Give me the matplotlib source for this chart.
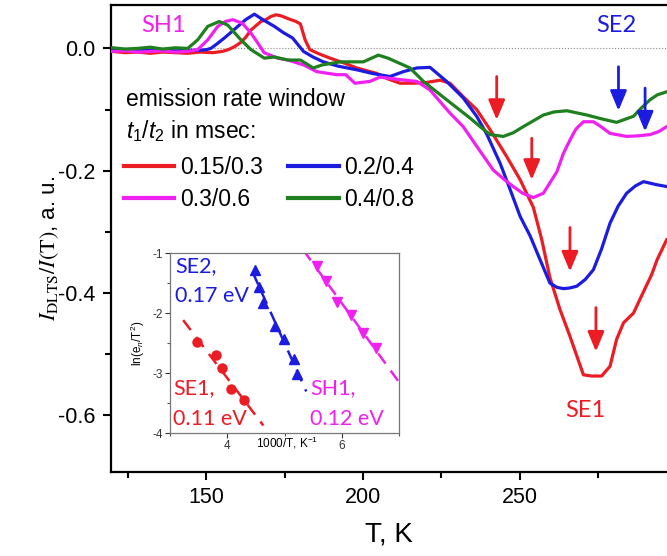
import numpy as np
import matplotlib
matplotlib.use("Agg")
import matplotlib.pyplot as plt
from matplotlib.ticker import MultipleLocator, FixedLocator

plt.rcParams["font.family"] = ["Liberation Sans", "DejaVu Sans"]
plt.rcParams["axes.unicode_minus"] = False
plt.rcParams["mathtext.fontset"] = "custom"
plt.rcParams["mathtext.rm"] = "Liberation Sans"
plt.rcParams["mathtext.it"] = "Liberation Sans:italic"

# DLTS spectra, T in K, signal in a.u.
red_T = [120, 124, 128, 132, 136, 140, 144, 148, 152, 155, 157, 159, 161, 162.5,
         164.2, 166, 167.4, 169, 170.5, 172.2, 174, 175.9, 178.6, 180, 181.5, 183,
         186, 189.5, 194, 198, 204.4, 208, 211.8, 216, 220, 224.6, 227.8, 232, 236.3,
         240.6, 245.9, 250.2, 254.4, 257.1, 259.7, 262.9, 266.1, 270.4, 273, 276.2,
         278.9, 281, 283.2, 286.4, 289.6, 292.2, 294, 297]
red_v = [-0.005, -0.007, -0.006, -0.008, -0.006, -0.007, -0.008, -0.006, -0.007,
         -0.005, -0.002, 0.003, 0.010, 0.018, 0.030, 0.038, 0.044, 0.047, 0.052,
         0.055, 0.053, 0.049, 0.044, 0.040, 0.014, -0.002, -0.009, -0.016, -0.024,
         -0.032, -0.041, -0.050, -0.057, -0.057, -0.056, -0.052, -0.057, -0.079,
         -0.100, -0.133, -0.177, -0.215, -0.260, -0.313, -0.375, -0.427, -0.471,
         -0.534, -0.536, -0.536, -0.520, -0.476, -0.449, -0.433, -0.398, -0.370,
         -0.345, -0.313]

blue_T = [120, 124, 128, 132, 136, 140, 144, 148, 150, 151.4, 153.5, 155.7, 158, 160,
          162.5, 165.3, 168, 171.7, 174.5, 177.5, 181, 184, 187.3, 192, 198, 203,
          208.6, 212.9, 217.2, 221.4, 226.7, 232, 236.3, 239.5, 243.8, 247, 250.2,
          253.4, 256.5, 259.7, 262, 264, 266, 268.3, 271, 273.6, 276.2, 278.9, 281.5,
          284.2, 287, 289.6, 293.8, 297]
blue_v = [-0.003, -0.002, -0.004, -0.003, -0.002, -0.004, -0.003, -0.003, -0.002,
          0.000, 0.008, 0.017, 0.027, 0.036, 0.047, 0.056, 0.047, 0.036, 0.026, 0.017,
          -0.005, -0.014, -0.022, -0.029, -0.035, -0.041, -0.046, -0.038, -0.032,
          -0.031, -0.054, -0.081, -0.111, -0.140, -0.188, -0.231, -0.275, -0.307,
          -0.345, -0.384, -0.391, -0.393, -0.392, -0.389, -0.378, -0.362, -0.328,
          -0.286, -0.258, -0.237, -0.225, -0.218, -0.223, -0.226]

magenta_T = [120, 124, 128, 132, 136, 140, 144, 147.2, 150.4, 153.6, 156, 158.4,
             161.5, 164.2, 166.5, 168.4, 172.7, 176, 181, 185.2, 191.6, 194.5, 197.4,
             202.2, 205.4, 210, 217.2, 221.4, 227.8, 232, 236.3, 241.6, 245, 248, 251,
             254.4, 257.6, 261.9, 264, 266.1, 268, 270.4, 273.6, 276, 278.9, 284.2,
             288, 291.7, 294.5, 297]
magenta_v = [-0.005, -0.004, -0.006, -0.005, -0.004, -0.006, -0.005, -0.002, 0.014,
             0.036, 0.044, 0.047, 0.041, 0.025, 0.008, -0.007, -0.016, -0.019, -0.027,
             -0.038, -0.043, -0.043, -0.057, -0.054, -0.047, -0.050, -0.054, -0.068,
             -0.106, -0.128, -0.160, -0.199, -0.214, -0.226, -0.237, -0.244, -0.237,
             -0.202, -0.172, -0.150, -0.132, -0.120, -0.120, -0.128, -0.139, -0.144,
             -0.143, -0.141, -0.136, -0.128]

green_T = [120, 124, 128, 132, 136, 140, 144, 147.2, 150.4, 154.1, 156.8, 161, 164.2,
           168.5, 171.7, 176, 180, 184.1, 187, 192.7, 200.1, 204.9, 208, 215, 219.3,
           226.7, 234.2, 237.4, 240.6, 244.8, 248, 251.2, 257.6, 261, 265.1, 271.5,
           276, 281, 286.4, 289, 291.7, 294, 297]
green_v = [0.001, -0.001, 0.000, 0.002, -0.001, 0.001, 0.000, 0.014, 0.036, 0.044,
           0.038, 0.014, -0.002, -0.016, -0.014, -0.019, -0.019, -0.032, -0.027,
           -0.022, -0.022, -0.011, -0.016, -0.032, -0.054, -0.084, -0.114, -0.128,
           -0.141, -0.144, -0.138, -0.128, -0.109, -0.104, -0.102, -0.109, -0.115,
           -0.121, -0.111, -0.097, -0.084, -0.076, -0.071]

series_labels = ["0.15/0.3", "0.2/0.4", "0.3/0.6", "0.4/0.8"]
RED, BLUE, MAGENTA, GREEN = "#ec1c24", "#1c1ce0", "#f020f0", "#1e801e"

# peak markers: T, start and tip of each arrow
arrow_T = [242.7, 253.9, 266.1, 274.4, 281.6, 290.1]
arrow_top = [-0.046, -0.147, -0.293, -0.424, -0.030, -0.065]
arrow_tip = [-0.117, -0.215, -0.365, -0.496, -0.102, -0.136]
arrow_col = [RED, RED, RED, RED, BLUE, BLUE]

# Arrhenius plot (inset): 1000/T vs ln(e_n/T^2)
se1_x = [3.47, 3.80, 3.90, 4.06, 4.29]
se1_y = [-2.49, -2.70, -2.92, -3.26, -3.45]
se2_x = [4.48, 4.56, 4.63, 4.84, 4.99, 5.16, 5.22]
se2_y = [-1.29, -1.57, -1.84, -2.21, -2.44, -2.76, -3.02]
sh1_x = [5.56, 5.73, 5.92, 6.17, 6.37, 6.59]
sh1_y = [-1.22, -1.47, -1.81, -2.03, -2.34, -2.59]
se1_fit = [3.23, 4.63]
se2_fit = [4.45, 5.38]
sh1_fit = [5.33, 7.0]

W, H = 667, 556
fig = plt.figure(figsize=(W / 100, H / 100), dpi=100)
ax = fig.add_axes([111 / W, 1 - 472 / H, (W - 111) / W, 467 / H])

ax.axhline(0, color="#888888", ls=":", lw=0.8, zorder=1)
lines = []
for T, v, c in [(red_T, red_v, RED), (blue_T, blue_v, BLUE),
                (magenta_T, magenta_v, MAGENTA), (green_T, green_v, GREEN)]:
    ln, = ax.plot(T, v, color=c, lw=2.3, solid_joinstyle="round", zorder=3)
    lines.append(ln)

for T, a, b, c in zip(arrow_T, arrow_top, arrow_tip, arrow_col):
    ax.annotate("", xy=(T, b), xytext=(T, a),
                arrowprops=dict(arrowstyle="-|>,head_length=1.2,head_width=0.5",
                                color=c, lw=2.0, shrinkA=0, shrinkB=0,
                                mutation_scale=10), zorder=4)

ax.set_xlim(119.5, 297.1)
ax.set_ylim(-0.693, 0.071)
ax.xaxis.set_major_locator(FixedLocator([150, 200, 250]))
ax.xaxis.set_minor_locator(FixedLocator([125, 175, 225, 275]))
ax.yaxis.set_major_locator(FixedLocator([0.0, -0.2, -0.4, -0.6]))
ax.yaxis.set_minor_locator(FixedLocator([-0.1, -0.3, -0.5]))
ax.yaxis.set_major_formatter(plt.FormatStrFormatter("%.1f"))
ax.tick_params(which="major", direction="out", length=6, width=1.5, labelsize=15.5, pad=5)
ax.tick_params(which="minor", direction="out", length=4, width=1.5)
ax.spines["right"].set_visible(False)
for s in ["left", "bottom", "top"]:
    ax.spines[s].set_linewidth(1.6)

ax.set_xlabel("T, K", fontsize=20)
ax.xaxis.set_label_coords(0.5, -0.105)
ax.set_ylabel(r"$I_{\rm DLTS}/I(\rm T)$, a. u.", fontsize=16, math_fontfamily="stix")
ax.yaxis.set_label_coords(-0.09, 0.478)

lab = dict(family=["Lato", "DejaVu Sans"], fontsize=17)
ax.text(136.3, 0.037, "SH1", color=MAGENTA, ha="center", va="center", **lab)
ax.text(280.8, 0.037, "SE2", color=BLUE, ha="center", va="center", **lab)
ax.text(270.9, -0.592, "SE1", color=RED, ha="center", va="center", **lab)

fig.text(126 / W, 1 - 106 / H, "emission rate window", fontsize=16.5, va="baseline")
fig.text(126 / W, 1 - 138 / H, r"$t_1$/$t_2$ in msec:", fontsize=16.5, va="baseline")
# two columns filled row by row: red, blue / magenta, green
order = [0, 2, 1, 3]
leg = ax.legend([lines[i] for i in order], [series_labels[i] for i in order],
                ncol=2, loc="upper left", bbox_to_anchor=(124 / W, 1 - 156 / H),
                bbox_transform=fig.transFigure, frameon=False, fontsize=16.5,
                borderpad=0, borderaxespad=0, handlelength=2.2, handletextpad=0.25,
                columnspacing=1.1, labelspacing=0.38)
for h in leg.get_lines():
    h.set_linewidth(3)

# inset
axi = fig.add_axes([170 / W, 1 - 433 / H, 229 / W, 180 / H])
axi.plot(se1_x, se1_y, "o", color=RED, ms=6.5, ls="none")
axi.plot(se2_x, se2_y, "^", color=BLUE, ms=7.5, ls="none")
axi.plot(sh1_x, sh1_y, "v", color=MAGENTA, ms=7.5, ls="none")
for x, y, rng, c in [(se1_x, se1_y, se1_fit, RED), (se2_x, se2_y, se2_fit, BLUE),
                     (sh1_x, sh1_y, sh1_fit, MAGENTA)]:
    k, b = np.polyfit(x, y, 1)
    xx = np.array(rng)
    axi.plot(xx, k * xx + b, color=c, lw=1.8, dashes=(5, 3.5))
axi.set_xlim(3, 7)
axi.set_ylim(-4, -1)
axi.xaxis.set_major_locator(FixedLocator([4, 6]))
axi.xaxis.set_minor_locator(FixedLocator([3, 5, 7]))
axi.yaxis.set_major_locator(MultipleLocator(1))
axi.yaxis.set_minor_locator(MultipleLocator(0.5))
axi.tick_params(which="major", direction="out", length=3.5, width=0.8, labelsize=8.5,
                pad=1.5, colors="#333333")
axi.tick_params(which="minor", direction="out", length=2, width=0.8, colors="#555555")
for s in axi.spines.values():
    s.set_color("#777777")
    s.set_linewidth(0.9)
axi.set_xlabel(r"1000/T, K$^{-1}$", fontsize=8.5)
axi.xaxis.set_label_coords(0.51, -0.01)
axi.set_ylabel(r"ln(e$_n$/T$^2$)", fontsize=8.5)
axi.yaxis.set_label_coords(-0.1, 0.5)

lab2 = dict(family=["Lato", "DejaVu Sans"], fontsize=15.5, linespacing=1.65,
            transform=axi.transAxes)
axi.text(0.022, 0.985, "SE2,\n0.17 eV", color=BLUE, ha="left", va="top", **lab2)
axi.text(0.015, 0.046, "SE1,\n0.11 eV", color=RED, ha="left", va="baseline", **lab2)
axi.text(0.611, 0.046, "SH1,\n0.12 eV", color=MAGENTA, ha="left", va="baseline", **lab2)

fig.savefig("out.png", dpi=100)
